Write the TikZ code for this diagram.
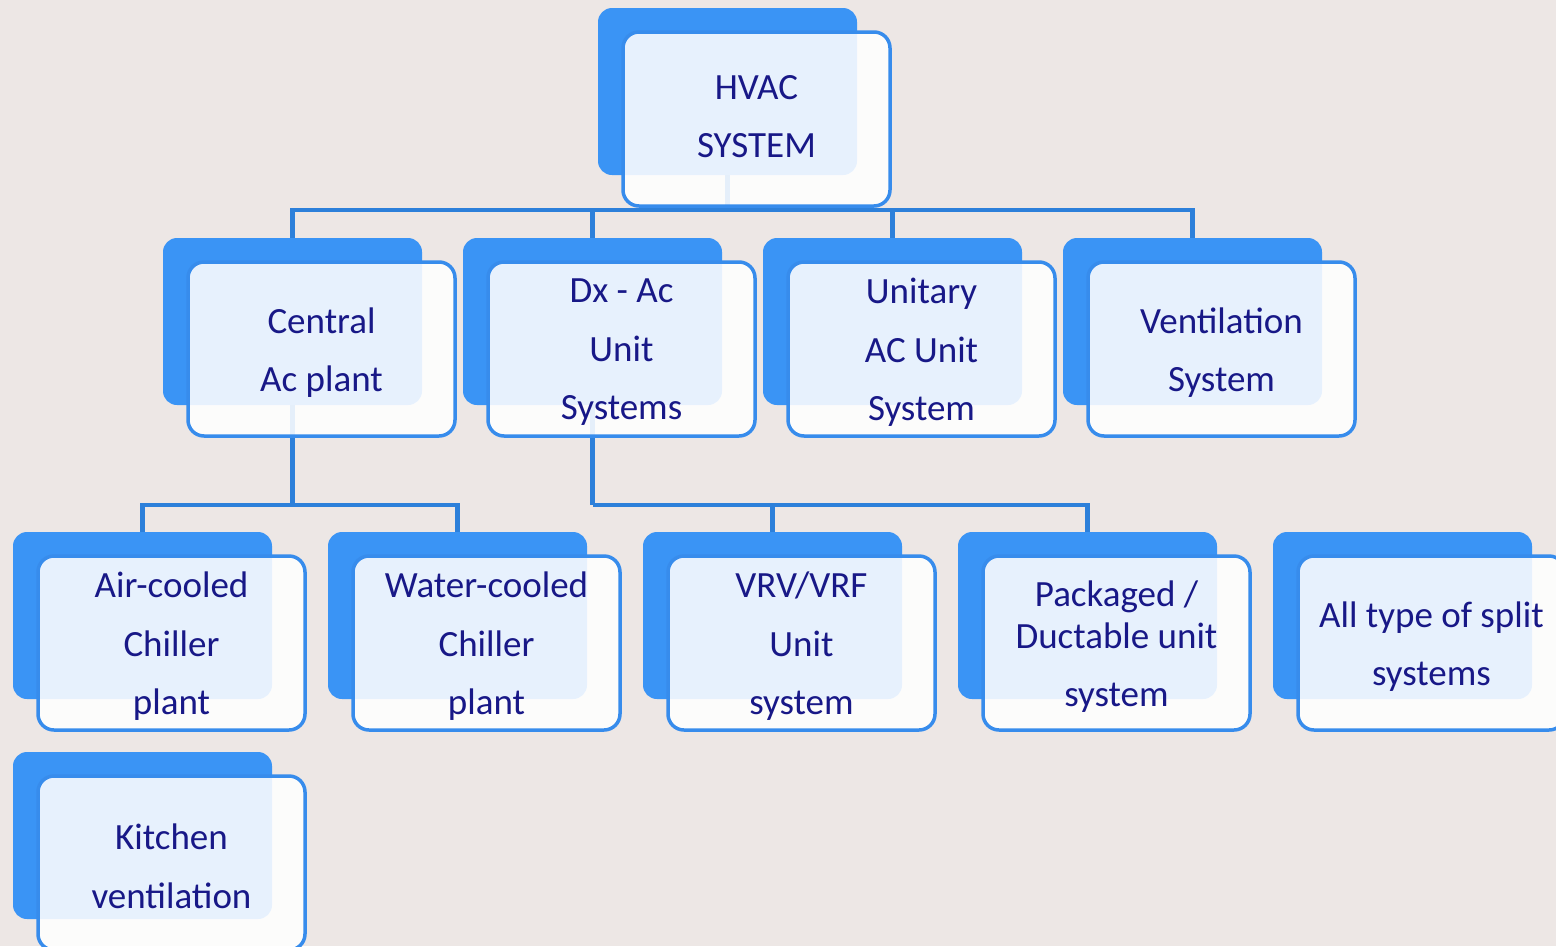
\documentclass[tikz,border=0pt]{standalone}
\usepackage{fontspec}
\setmainfont{Carlito}
\pgfdeclarelayer{bg}
\pgfsetlayers{bg,main}
\definecolor{bgc}{RGB}{237,231,229}
\definecolor{boxblue}{RGB}{58,148,245}
\definecolor{edgeblue}{RGB}{55,140,236}
\definecolor{linkblue}{RGB}{45,128,218}
\definecolor{navy}{RGB}{24,24,135}
\tikzset{
  backbox/.style={draw=none, fill=boxblue, rounded corners=14pt, minimum width=259pt, minimum height=167pt, inner sep=0pt},
  frontbox/.style={draw=edgeblue, line width=3.5pt, fill=white, fill opacity=0.88, rounded corners=16pt,
    minimum width=267pt, minimum height=174pt, inner sep=0pt},
  boxtext/.style={inner sep=0pt, align=center, text=navy, font=\fontsize{37}{58.5}\selectfont},
  conn/.style={draw=linkblue, line width=4.5pt}
}
\newcommand\hvbox[5][-3.5pt]{%
  \node[backbox] (#2b) at (#3,#4) {};
  \node[frontbox, xshift=29pt, yshift=-27.5pt] (#2) at (#2b) {};
  \node[boxtext, yshift=#1] (#2t) at (#2) {#5};}
\begin{document}
\begin{tikzpicture}[x=1pt,y=-1pt]
\useasboundingbox (0,0) rectangle (1556,946);
\begin{pgfonlayer}{bg}
\fill[bgc] (0,0) rectangle (1556,946);
\end{pgfonlayer}
% level 1
\hvbox[2.5pt]{hvac}{727.5}{91.5}{HVAC\\SYSTEM}
% level 2
\hvbox{cen}{292.5}{321.5}{Central\\Ac plant}
\hvbox{dx}{592.5}{321.5}{Dx - Ac\\Unit\\Systems}
\hvbox{uni}{892.5}{321.5}{Unitary\\AC Unit\\System}
\hvbox{ven}{1192.5}{321.5}{Ventilation\\System}
% level 3
\hvbox{air}{142.5}{615.5}{Air-cooled\\Chiller\\plant}
\hvbox{wat}{457.5}{615.5}{Water-cooled\\Chiller\\plant}
\hvbox{vrv}{772.5}{615.5}{VRV/VRF\\Unit\\system}
\hvbox{pkg}{1087.5}{615.5}{Packaged /\\[-16.5pt]Ductable unit\\system}
\hvbox{spl}{1402.5}{615.5}{All type of split\\systems}
% level 4
\hvbox{kit}{142.5}{835.5}{Kitchen\\ventilation}
% connectors
\coordinate (busA) at (727.5,210);
\coordinate (busB) at (292.5,505);
\coordinate (busC) at (592.5,505);
\begin{pgfonlayer}{bg}
\draw[conn] (hvacb.south) -- (busA);
\draw[conn] (busA) -| (cenb.north);
\draw[conn] (busA) -| (dxb.north);
\draw[conn] (busA) -| (unib.north);
\draw[conn] (busA) -| (venb.north);
\draw[conn] (cenb.south) -- (busB);
\draw[conn] (busB) -| (airb.north);
\draw[conn] (busB) -| (watb.north);
\draw[conn] (dxb.south) -- (busC);
\draw[conn] (busC) -| (vrvb.north);
\draw[conn] (busC) -| (pkgb.north);
\end{pgfonlayer}
\end{tikzpicture}
\end{document}
